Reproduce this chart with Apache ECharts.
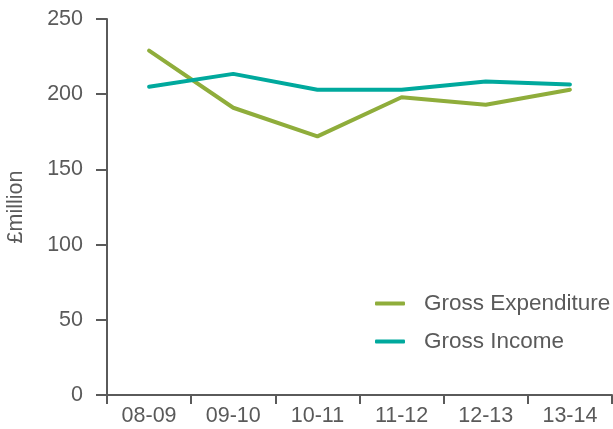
<!DOCTYPE html>
<html><head><meta charset="utf-8">
<script src="https://cdn.jsdelivr.net/npm/echarts@6/dist/echarts.min.js"></script>
<style>html,body{margin:0;padding:0;background:#fff}#c{width:613px;height:429px}</style>
</head><body><div id="c"></div>
<script>
const categories = ['08-09','09-10','10-11','11-12','12-13','13-14'];
const grossExpenditure = [229, 191, 172, 198, 193, 203];
const grossIncome = [205, 213.5, 203, 203, 208.5, 206.5];
const yTicks = {min: 0, max: 250, interval: 50};

const chart = echarts.init(document.getElementById('c'), null, {renderer: 'canvas'});
const axisColor = '#5a5a5a';
const font = 'Liberation Sans, Arial, sans-serif';
chart.setOption({
  animation: false,
  grid: {left: 107, right: 1, top: 19, bottom: 34, containLabel: false, outerBoundsMode: 'none'},
  legend: {
    orient: 'vertical', left: 375, top: 292, itemGap: 15, padding: 0,
    itemWidth: 30, itemHeight: 4, icon: 'roundRect',
    textStyle: {color: axisColor, fontSize: 22.5, fontFamily: font, padding: [0,0,0,14]},
    data: ['Gross Expenditure', 'Gross Income']
  },
  xAxis: {
    type: 'category', data: categories, boundaryGap: true,
    axisLine: {lineStyle: {color: axisColor, width: 2}},
    axisTick: {show: true, length: 9, lineStyle: {color: axisColor, width: 2}},
    axisLabel: {color: axisColor, fontSize: 21.5, fontFamily: font, margin: 10}
  },
  yAxis: {
    type: 'value', min: yTicks.min, max: yTicks.max, interval: yTicks.interval,
    name: '£million', nameLocation: 'middle', nameGap: 80, nameRotate: 90,
    nameTextStyle: {color: axisColor, fontSize: 21.5, fontFamily: font},
    axisLine: {show: true, lineStyle: {color: axisColor, width: 2}},
    axisTick: {show: true, length: 11, lineStyle: {color: axisColor, width: 2}},
    axisLabel: {color: axisColor, fontSize: 21.5, fontFamily: font, margin: 24},
    splitLine: {show: false}
  },
  series: [
    {name: 'Gross Expenditure', type: 'line', data: grossExpenditure, symbol: 'none',
     itemStyle: {color: '#8fad3b'}, lineStyle: {color: '#8fad3b', width: 4, cap: 'round'}},
    {name: 'Gross Income', type: 'line', data: grossIncome, symbol: 'none',
     itemStyle: {color: '#00a99d'}, lineStyle: {color: '#00a99d', width: 4, cap: 'round'}}
  ]
});
</script></body></html>
